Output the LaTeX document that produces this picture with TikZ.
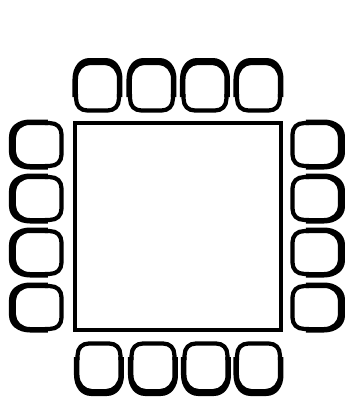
\documentclass[tikz,border=0pt]{standalone}
\usepackage{tikz}
\tikzset{
    tableline/.style={line width=2.3pt, line join=miter},
    seatline/.style={line width=2.4pt, line join=round},
    chair/.pic={
        % Seat
        \draw[seatline] (-21.4,-9) -- (-21.4,-14) .. controls (-21.4,-21) and (-17,-25.5) .. (-10,-25.5)
            -- (10,-25.5) .. controls (17,-25.5) and (21.4,-21) .. (21.4,-14) -- (21.4,-9);
        % Back
        \fill[black] (-25,-12) -- (-25,6) .. controls (-25,18) and (-18,27) .. (-8,27)
            -- (8,27) .. controls (18,27) and (25,18) .. (25,6) -- (25,-12) -- (19.5,-12) -- (19.5,6)
            .. controls (19.5,14) and (14,20) .. (7,20) -- (-7,20) .. controls (-14,20) and (-19.5,14) .. (-19.5,6)
            -- (-19.5,-12) -- cycle;
    }
}

\begin{document}
\begin{tikzpicture}[x=0.02cm, y=0.02cm]
    \useasboundingbox (0,0) rectangle (346,400);

    % Table
    \draw[tableline] (75,70) rectangle (281,277);

    % Chairs along the top and the bottom
    \foreach \x in {97.5,151.5,205,258.5} {
        \pic at (\x,315) {chair};
    }
    \foreach \x in {99,153,206,258.5} {
        \pic[rotate=180] at (\x,31) {chair};
    }

    % Chairs along the left and the right
    \foreach \y in {255.5,201.5,147.5,92.5} {
        \pic[rotate=90] at (36,\y) {chair};
        \pic[rotate=-90] at (318,\y) {chair};
    }
\end{tikzpicture}
\end{document}
